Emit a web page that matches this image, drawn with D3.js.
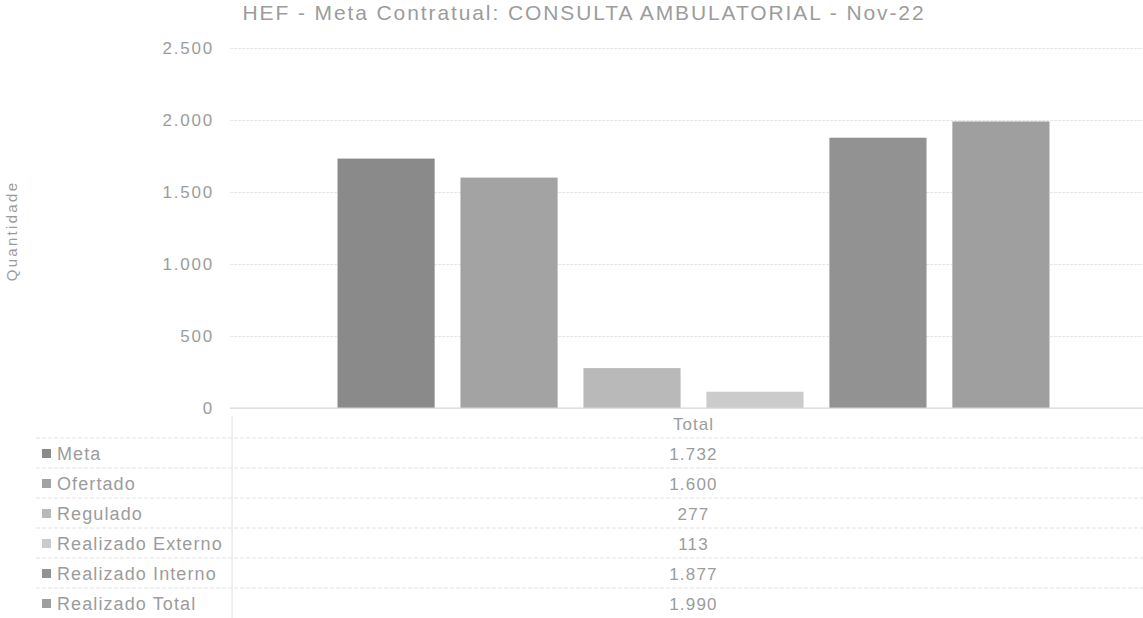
<!DOCTYPE html>
<html>
<head>
<meta charset="utf-8">
<script src="https://cdn.jsdelivr.net/npm/d3@7"></script>
<style>
  body { margin: 0; background: #fff; }
  text { font-family: "Liberation Sans", Arial, sans-serif; fill: #9c9c9c; }
</style>
</head>
<body>
<svg id="chart" width="1143" height="618"></svg>
<script>
// dados
var categories = ['Total'];
var seriesNames = ['Meta', 'Ofertado', 'Regulado', 'Realizado Externo', 'Realizado Interno', 'Realizado Total'];
var seriesValues = [1732, 1600, 277, 113, 1877, 1990];
var seriesColors = ['#8a8a8a', '#a3a3a3', '#b9b9b9', '#cbcbcb', '#929292', '#9f9f9f'];
var yTicks = [0, 500, 1000, 1500, 2000, 2500];

var svg = d3.select('#chart');
var fmt = d3.formatLocale({decimal: ',', thousands: '.', grouping: [3], currency: ['R$', '']}).format(',d');

var plotLeft = 230, plotRight = 1157, plotTop = 48, plotBottom = 408;

var y = d3.scaleLinear().domain([0, 2500]).range([plotBottom, plotTop]);
var x0 = d3.scaleBand().domain(categories).range([plotLeft, plotRight]).paddingOuter(0.151);
var x1 = d3.scaleBand().domain(seriesNames).range([0, x0.bandwidth()]).paddingInner(0.21).paddingOuter(0);

// titulo
svg.append('text')
  .attr('x', 584).attr('y', 20)
  .attr('text-anchor', 'middle')
  .style('font-size', '21px')
  .style('letter-spacing', '1.9px')
  .text('HEF - Meta Contratual: CONSULTA AMBULATORIAL - Nov-22');

// eixo y
var yAxis = svg.append('g')
  .attr('transform', 'translate(' + plotLeft + ',0)')
  .call(d3.axisLeft(y).tickValues(yTicks).tickFormat(fmt).tickSize(-(plotRight - plotLeft)).tickPadding(16));
yAxis.select('.domain').remove();
yAxis.selectAll('.tick line').attr('stroke', '#e6e6e6').attr('stroke-dasharray', '3,1');
yAxis.selectAll('.tick text').style('font-size', '17px').style('letter-spacing', '1.8px').attr('fill', '#9c9c9c');

svg.append('text')
  .attr('transform', 'translate(17,231) rotate(-90)')
  .attr('text-anchor', 'middle')
  .style('font-size', '15px')
  .style('letter-spacing', '2.3px')
  .text('Quantidade');

// barras
var g = svg.append('g').selectAll('g').data(categories).enter()
  .append('g').attr('transform', function (d) { return 'translate(' + x0(d) + ',0)'; });

g.selectAll('rect')
  .data(seriesNames.map(function (s, i) { return {name: s, value: seriesValues[i], color: seriesColors[i]}; }))
  .enter().append('rect')
  .attr('x', function (d) { return x1(d.name); })
  .attr('width', x1.bandwidth())
  .attr('y', function (d) { return y(d.value); })
  .attr('height', function (d) { return plotBottom - y(d.value); })
  .attr('fill', function (d) { return d.color; });

// linha base
svg.append('line')
  .attr('x1', plotLeft).attr('x2', 1143).attr('y1', plotBottom).attr('y2', plotBottom)
  .attr('stroke', '#d6d6d6');

// tabela de dados
var rowH = 30, tableTop = 438;
var cx = x0('Total') + x0.bandwidth() / 2;

svg.append('text')
  .attr('x', cx).attr('y', 430)
  .attr('text-anchor', 'middle')
  .style('font-size', '17px')
  .style('letter-spacing', '1px')
  .text(categories[0]);

svg.append('line')
  .attr('x1', plotLeft + 2).attr('x2', plotLeft + 2).attr('y1', 416).attr('y2', 618)
  .attr('stroke', '#e0e0e0');

var rows = svg.append('g').selectAll('g').data(seriesNames).enter().append('g')
  .attr('transform', function (d, i) { return 'translate(0,' + (tableTop + i * rowH) + ')'; });

rows.append('line')
  .attr('x1', 36).attr('x2', 1143).attr('y1', 0).attr('y2', 0)
  .attr('stroke', '#e2e2e2').attr('stroke-dasharray', '4,2');

rows.append('rect')
  .attr('x', 42).attr('y', 11).attr('width', 9).attr('height', 9)
  .attr('fill', function (d, i) { return seriesColors[i]; });

rows.append('text')
  .attr('x', 57).attr('y', 22)
  .style('font-size', '18px')
  .style('letter-spacing', '1.1px')
  .text(function (d) { return d; });

rows.append('text')
  .attr('x', cx).attr('y', 22)
  .attr('text-anchor', 'middle')
  .style('font-size', '17px')
  .style('letter-spacing', '1.2px')
  .text(function (d, i) { return fmt(seriesValues[i]); });
</script>
</body>
</html>
